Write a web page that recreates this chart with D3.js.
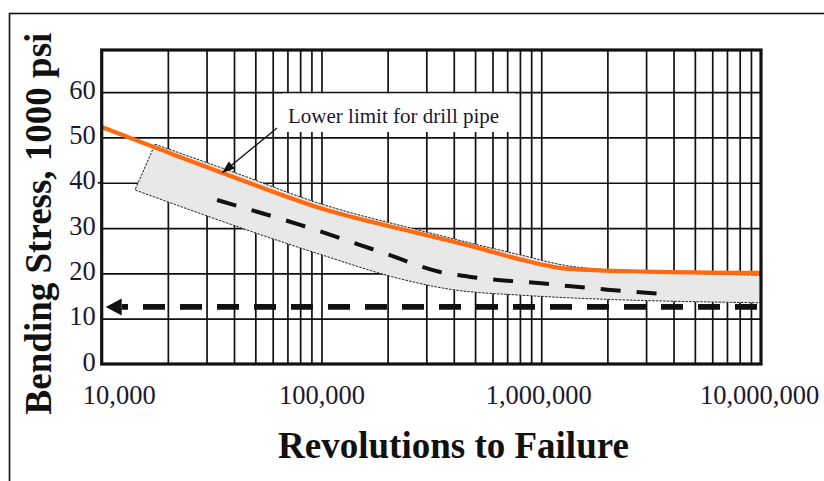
<!DOCTYPE html>
<html>
<head>
<meta charset="utf-8">
<script src="https://cdn.jsdelivr.net/npm/d3@7"></script>
<style>
  html, body { margin: 0; padding: 0; background: #fff; }
  svg { display: block; }
  text { font-family: "Liberation Serif", "Times New Roman", serif; }
</style>
</head>
<body>
<svg id="chart" width="824" height="481"></svg>
<script>
// Axis ticks
const xTickValues = [1e4, 1e5, 1e6, 1e7];
const xTickLabels = ["10,000", "100,000", "1,000,000", "10,000,000"];
const yTickValues = [0, 10, 20, 30, 40, 50, 60];

// Lower limit for drill pipe (orange curve)
const limitRevs   = [1e4, 2e4, 4e4, 1e5, 2.8e5, 5e5, 8e5, 1.33e6, 3e6, 1e7];
const limitStress = [52.3, 46.7, 41.2, 34.3, 28.8, 25.8, 23.1, 21.0, 20.4, 20.1];

// Scatter band: upper and lower edges
const bandUpperRevs   = [1.748e4, 4e4, 1e5, 2.8e5, 8e5, 1.35e6, 3e6, 1e7];
const bandUpperStress = [48.5, 42.3, 35.3, 29.5, 24.1, 21.6, 20.4, 19.6];
const bandLowerRevs   = [1.417e4, 1e5, 2.28e5, 3.84e5, 8e5, 1e7];
const bandLowerStress = [38.4, 24.1, 18.8, 16.5, 15.2, 13.5];

// Mean curve through the band (dashed)
const meanRevs   = [3.35e4, 8e4, 2e5, 3.4e5, 5e5, 1e6, 2e6, 3.77e6];
const meanStress = [36.2, 30.7, 24.2, 20.4, 19.1, 17.8, 16.4, 15.4];

// Endurance level (dashed arrow toward the stress axis)
const enduranceStress = 12.6;

const svg = d3.select("#chart");
const W = 824, H = 481;
const plot = { left: 101.7, right: 761, top: 50, bottom: 364 };

const x = d3.scaleLog().domain([1e4, 1e7]).range([plot.left, plot.right]);
const y = d3.scaleLinear().domain([0, 69.3]).range([plot.bottom, plot.top]);

const ink = "#111";
const labelInk = "#1a1830";

// outer frame (only left and top edges fall inside the page)
svg.append("rect")
  .attr("x", 9.5).attr("y", 13.5)
  .attr("width", W + 20).attr("height", H + 20)
  .attr("fill", "none").attr("stroke", ink).attr("stroke-width", 1.6);

// vertical grid: every 1..9 multiple of each decade
const gridX = x.ticks(30).filter(v => v > 1e4 && v < 1e7);
svg.append("g")
  .attr("transform", `translate(0,${plot.bottom})`)
  .call(d3.axisBottom(x).tickValues(gridX).tickSize(-(plot.bottom - plot.top)).tickFormat(""))
  .call(g => g.select(".domain").remove())
  .call(g => g.selectAll("line").attr("stroke", ink).attr("stroke-width", 1.7));

// horizontal grid
svg.append("g")
  .attr("transform", `translate(${plot.left},0)`)
  .call(d3.axisLeft(y).tickValues(yTickValues.filter(v => v > 0)).tickSize(-(plot.right - plot.left)).tickFormat(""))
  .call(g => g.select(".domain").remove())
  .call(g => g.selectAll("line").attr("stroke", ink).attr("stroke-width", 1.7));

// small outside tick at 40
svg.append("line")
  .attr("x1", plot.left - 4).attr("x2", plot.left)
  .attr("y1", y(40)).attr("y2", y(40))
  .attr("stroke", ink).attr("stroke-width", 1.7);

// white backing for the annotation
svg.append("rect")
  .attr("x", 283).attr("y", 93.5)
  .attr("width", 232).attr("height", 38.5)
  .attr("fill", "#fff");

// scatter band outline: upper edge left to right, lower edge right to left
const monotone = d3.line().curve(d3.curveMonotoneX);
const upper = bandUpperRevs.map((r, i) => [x(r), y(bandUpperStress[i])]);
const lower = bandLowerRevs.map((r, i) => [x(r), y(bandLowerStress[i])]);

function reversedMonotone(points) {
  // trace a monotone-x curve backwards by mirroring x, then flip the numbers back
  const mirrored = points.map(p => [-p[0], p[1]]).reverse();
  const d = monotone(mirrored);
  return d.replace(/(-?\d*\.?\d+(?:e[-+]?\d+)?),(-?\d*\.?\d+(?:e[-+]?\d+)?)/g,
    (m, a, b) => `${-parseFloat(a)},${b}`);
}
const bandD = monotone(upper) + "L" + reversedMonotone(lower).slice(1) + "Z";
svg.append("path")
  .attr("d", bandD)
  .attr("fill", "#e8e8e8")
  .attr("stroke", "#222")
  .attr("stroke-width", 1)
  .attr("stroke-dasharray", "2.5,1.2");

// lower limit curve
svg.append("path")
  .attr("d", monotone(limitRevs.map((r, i) => [x(r), y(limitStress[i])])))
  .attr("fill", "none")
  .attr("stroke", "#ff6a10")
  .attr("stroke-width", 4.2);

// mean curve
svg.append("path")
  .attr("d", monotone(meanRevs.map((r, i) => [x(r), y(meanStress[i])])))
  .attr("fill", "none")
  .attr("stroke", ink)
  .attr("stroke-width", 4)
  .attr("stroke-dasharray", "20,16");

// endurance dashed arrow (dashes laid out from the right end)
const ey = y(enduranceStress);
const arrowTip = plot.left + 4;
const arrowBase = arrowTip + 16;
svg.append("line")
  .attr("x1", plot.right - 4).attr("x2", arrowBase)
  .attr("y1", ey).attr("y2", ey)
  .attr("stroke", ink)
  .attr("stroke-width", 5.8)
  .attr("stroke-dasharray", "22,15");
svg.append("path")
  .attr("d", `M${arrowTip},${ey}L${arrowBase},${ey - 8.5}L${arrowBase},${ey + 8.5}Z`)
  .attr("fill", ink);

// annotation and its pointer
svg.append("text")
  .attr("x", 288).attr("y", 123)
  .attr("font-size", 21)
  .attr("fill", labelInk)
  .text("Lower limit for drill pipe");
const ax0 = 277, ay0 = 128, ax1 = 221.7, ay1 = 173.3;
const ang = Math.atan2(ay1 - ay0, ax1 - ax0);
const hl = 13, hw = 4.6;
svg.append("line")
  .attr("x1", ax0).attr("y1", ay0)
  .attr("x2", ax1 - Math.cos(ang) * hl * 0.8).attr("y2", ay1 - Math.sin(ang) * hl * 0.8)
  .attr("stroke", ink).attr("stroke-width", 1.3);
const bx = ax1 - Math.cos(ang) * hl, by = ay1 - Math.sin(ang) * hl;
svg.append("path")
  .attr("d", `M${ax1},${ay1}L${bx - Math.sin(ang) * hw},${by + Math.cos(ang) * hw}L${bx + Math.sin(ang) * hw},${by - Math.cos(ang) * hw}Z`)
  .attr("fill", ink);

// plot border
svg.append("rect")
  .attr("x", plot.left).attr("y", plot.top)
  .attr("width", plot.right - plot.left).attr("height", plot.bottom - plot.top)
  .attr("fill", "none").attr("stroke", ink).attr("stroke-width", 3.2);

// x tick labels
const xAxis = svg.append("g")
  .attr("transform", `translate(0,${plot.bottom})`)
  .call(d3.axisBottom(x).tickValues(xTickValues).tickSize(0)
    .tickFormat((d, i) => xTickLabels[i]));
xAxis.select(".domain").remove();
xAxis.selectAll("text")
  .attr("font-family", "Liberation Serif, serif")
  .attr("font-size", 26.5)
  .attr("fill", labelInk)
  .attr("dy", null)
  .attr("y", 40)
  .attr("dx", (d, i) => i === 0 ? 17 : (i === 2 ? -3 : (i === 3 ? -2 : 0)));

// y tick labels
const yAxis = svg.append("g")
  .attr("transform", `translate(${plot.left},0)`)
  .call(d3.axisLeft(y).tickValues(yTickValues).tickSize(0).tickFormat(d3.format("d")));
yAxis.select(".domain").remove();
yAxis.selectAll("text")
  .attr("font-family", "Liberation Serif, serif")
  .attr("font-size", 26.5)
  .attr("fill", labelInk)
  .attr("dy", null)
  .attr("y", 6)
  .attr("x", -6);

// axis titles
svg.append("text")
  .attr("x", 453.5).attr("y", 458)
  .attr("text-anchor", "middle")
  .attr("font-size", 37).attr("font-weight", "bold")
  .attr("fill", ink)
  .text("Revolutions to Failure");

svg.append("text")
  .attr("transform", "translate(51,223.5) rotate(-90)")
  .attr("text-anchor", "middle")
  .attr("font-size", 37).attr("font-weight", "bold")
  .attr("fill", ink)
  .text("Bending Stress, 1000 psi");
</script>
</body>
</html>
